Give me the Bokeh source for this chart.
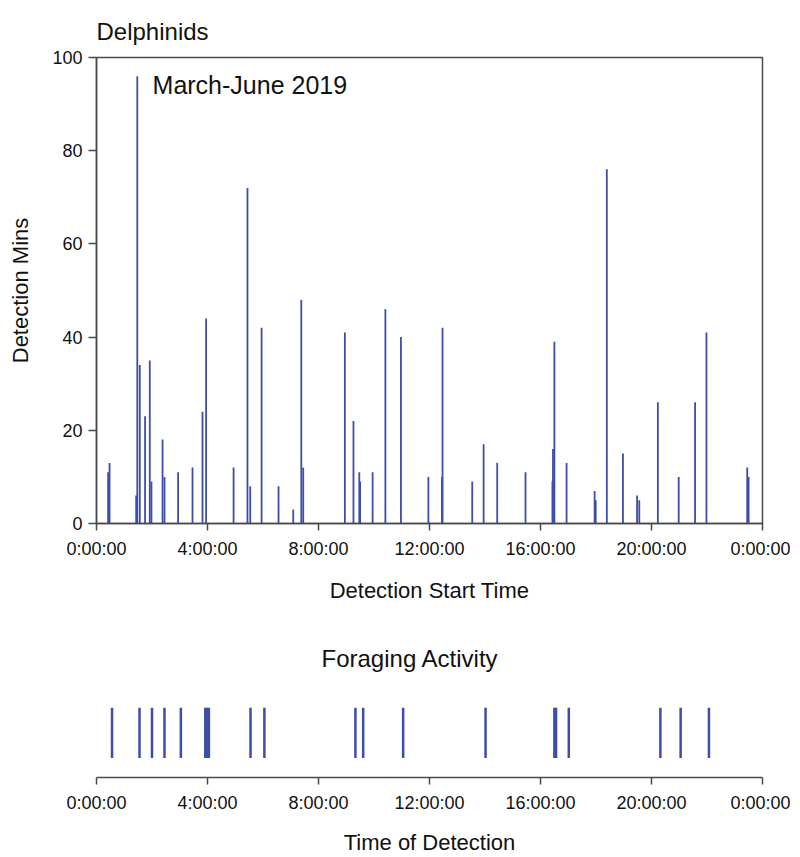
from bokeh.plotting import figure
from bokeh.models import Range1d, FixedTicker, Label, ColumnDataSource
from bokeh.layouts import column
from bokeh.embed import file_html
from bokeh.resources import INLINE

# ---------------- data ----------------
# Detection start time (hours after midnight) and detection minutes
det_hours = [0.42, 0.47, 1.43, 1.47, 1.56, 1.75, 1.92, 1.98, 2.38, 2.45,
             2.94, 3.46, 3.82, 3.95, 4.94, 5.44, 5.54, 5.95, 6.56, 7.09,
             7.38, 7.45, 8.95, 9.26, 9.47, 9.50, 9.95, 10.41, 10.97, 11.96,
             12.45, 12.47, 13.54, 13.95, 14.44, 15.46, 16.43, 16.45, 16.50, 16.94,
             17.95, 17.99, 18.39, 18.97, 19.48, 19.56, 20.23, 20.98, 21.57, 21.98,
             23.45, 23.50]
det_mins = [11, 13, 6, 96, 34, 23, 35, 9, 18, 10,
            11, 12, 24, 44, 12, 72, 8, 42, 8, 3,
            48, 12, 41, 22, 11, 9, 11, 46, 40, 10,
            10, 42, 9, 17, 13, 11, 9, 16, 39, 13,
            7, 5, 76, 15, 6, 5, 26, 10, 26, 41,
            12, 10]

# Foraging activity detection times (hours)
forage_hours = [0.56, 1.55, 2.00, 2.45, 3.04, 3.92, 3.98, 4.05, 5.55, 6.05,
                9.33, 9.61, 11.05, 14.02, 16.50, 16.56, 17.02, 20.32, 21.05, 22.07]

x_ticks = [0, 4, 8, 12, 16, 20, 24]
x_tick_labels = ["0:00:00", "4:00:00", "8:00:00", "12:00:00", "16:00:00", "20:00:00", "0:00:00"]
y_ticks = [0, 20, 40, 60, 80, 100]

title_top = "Delphinids"
period_note = "March-June 2019"
title_bottom = "Foraging Activity"
xlabel_top = "Detection Start Time"
ylabel_top = "Detection Mins"
xlabel_bottom = "Time of Detection"

# ---------------- style ----------------
FONT = "Liberation Sans"
BAR = "#3C4DAA"
AXC = "#4a4a4a"
TXT = "#111111"

overrides = {t: l for t, l in zip(x_ticks, x_tick_labels)}

def style_xaxis(ax, label, standoff):
    ax.ticker = FixedTicker(ticks=x_ticks)
    ax.major_label_overrides = overrides
    ax.minor_tick_line_color = None
    ax.major_tick_in = 0
    ax.major_tick_out = 7
    ax.major_tick_line_color = AXC
    ax.major_tick_line_width = 1.5
    ax.axis_line_color = AXC
    ax.axis_line_width = 1.5
    ax.major_label_text_font = FONT
    ax.major_label_text_font_size = "18px"
    ax.major_label_text_color = TXT
    ax.major_label_standoff = 8
    ax.axis_label = label
    ax.axis_label_text_font = FONT
    ax.axis_label_text_font_size = "22px"
    ax.axis_label_text_font_style = "normal"
    ax.axis_label_text_color = TXT
    ax.axis_label_standoff = standoff

def style_title(fig, text, offset, standoff):
    fig.title.text = text
    fig.title.text_font = FONT
    fig.title.text_font_size = "24px"
    fig.title.text_font_style = "normal"
    fig.title.text_color = TXT
    fig.title.align = "left"
    fig.title.offset = offset
    fig.title.standoff = standoff

# ---------------- top chart ----------------
src = ColumnDataSource(dict(x=det_hours, y=det_mins, y0=[0] * len(det_mins)))

p = figure(width=790, height=605, x_range=Range1d(0, 24), y_range=Range1d(0, 100),
           output_backend="svg", toolbar_location=None,
           min_border_left=96, min_border_right=28, min_border_top=57, min_border_bottom=82)
p.segment(x0="x", y0="y0", x1="x", y1="y", source=src, line_color=BAR, line_width=1.8)
style_title(p, title_top, 0, 26)

p.xgrid.visible = False
p.ygrid.visible = False
p.outline_line_color = AXC
p.outline_line_width = 1.5
p.background_fill_color = "white"
p.border_fill_color = "white"

style_xaxis(p.xaxis[0], xlabel_top, 16)

ya = p.yaxis[0]
ya.ticker = FixedTicker(ticks=y_ticks)
ya.minor_tick_line_color = None
ya.major_tick_in = 0
ya.major_tick_out = 8
ya.major_tick_line_color = AXC
ya.major_tick_line_width = 1.5
ya.axis_line_color = AXC
ya.axis_line_width = 1.5
ya.major_label_text_font = FONT
ya.major_label_text_font_size = "18px"
ya.major_label_text_color = TXT
ya.major_label_standoff = 6
ya.axis_label = ylabel_top
ya.axis_label_text_font = FONT
ya.axis_label_text_font_size = "22px"
ya.axis_label_text_font_style = "normal"
ya.axis_label_text_color = TXT
ya.axis_label_standoff = 16

p.add_layout(Label(x=2.02, y=94.2, text=period_note, text_font=FONT, text_font_size="25px",
                   text_color=TXT, text_baseline="middle", text_align="left"))

# ---------------- bottom chart ----------------
src2 = ColumnDataSource(dict(x=forage_hours, y0=[0] * len(forage_hours), y1=[1] * len(forage_hours)))

p2 = figure(width=790, height=252, x_range=Range1d(0, 24), y_range=Range1d(-0.385, 1),
            output_backend="svg", toolbar_location=None, y_axis_location=None,
            min_border_left=96, min_border_right=28, min_border_top=102, min_border_bottom=78)
p2.segment(x0="x", y0="y0", x1="x", y1="y1", source=src2, line_color=BAR, line_width=2.5)
style_title(p2, title_bottom, 225, 72)

p2.xgrid.visible = False
p2.ygrid.visible = False
p2.outline_line_color = None
style_xaxis(p2.xaxis[0], xlabel_bottom, 14)

layout = column(p, p2, spacing=0)
open("out.html", "w").write(file_html(layout, INLINE))
